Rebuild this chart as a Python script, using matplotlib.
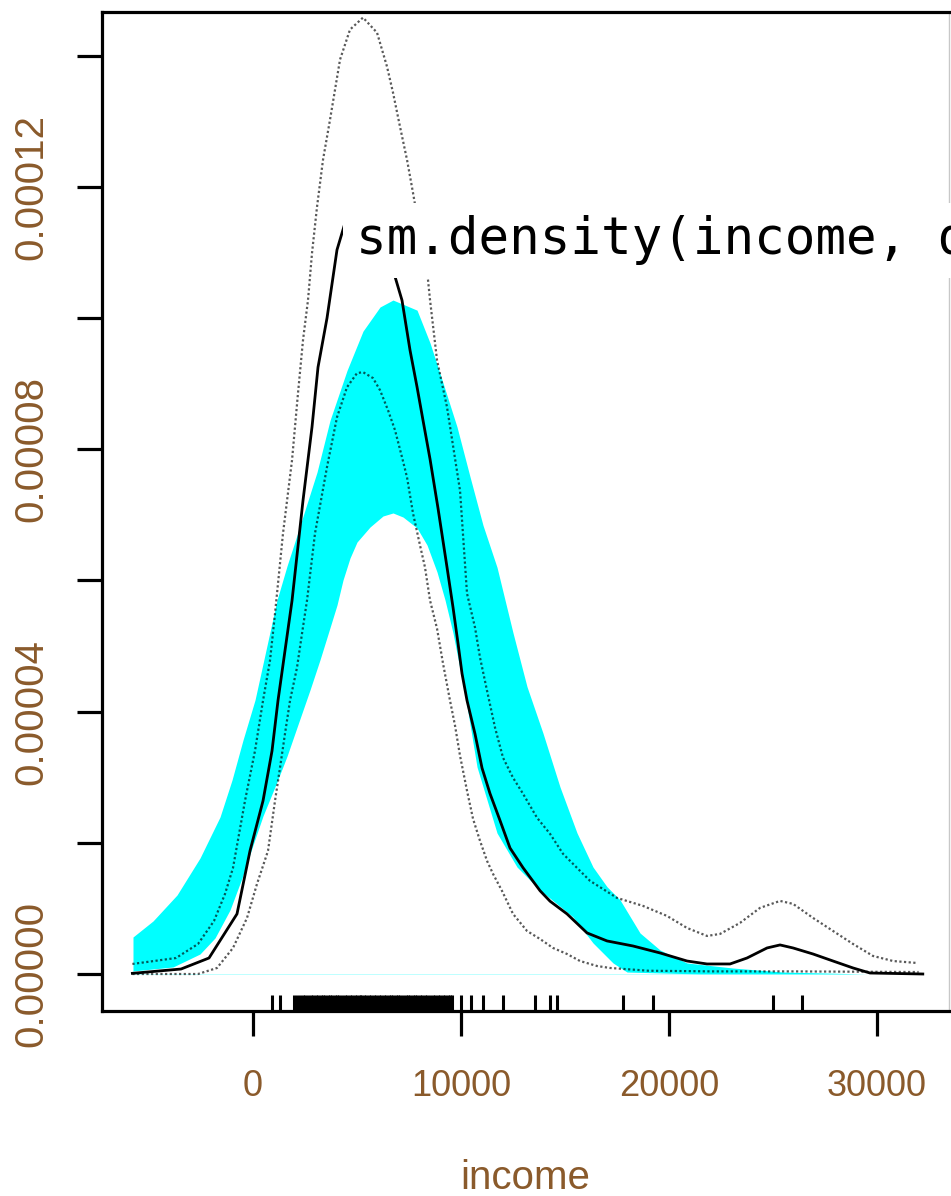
import matplotlib
matplotlib.use("Agg")
import matplotlib.pyplot as plt

# ---- data (income, density in units of 1e-5) ----
# density estimate (solid)
est_x = [-5800, -3460, -2115, -770, -144, 481, 913, 1202, 1538, 1875, 2404, 2837,
         3125, 3558, 4038, 4471, 4760, 5144, 5529, 5913, 6346, 6827, 7163, 7548,
         7885, 8173, 8510, 8894, 9327, 9615, 9856, 10048, 10288, 10673, 11010,
         11394, 11875, 12356, 12981, 13798, 14279, 15096, 16058, 17019, 18269,
         19567, 20865, 21827, 22933, 23750, 24712, 25337, 25962, 26923, 27885,
         28846, 29663, 32200]
est_y = [0.01, 0.076, 0.244, 0.916, 1.878, 2.64, 3.40, 4.17, 4.93, 5.69, 7.22, 8.34,
         9.25, 10.0, 11.04, 11.5, 11.66, 11.7, 11.66, 11.5, 11.15, 10.63, 10.27, 9.51,
         8.95, 8.44, 7.85, 7.1, 6.2, 5.59, 5.04, 4.58, 4.17, 3.66, 3.14,
         2.75, 2.34, 1.92, 1.62, 1.27, 1.11, 0.916, 0.626, 0.504, 0.427,
         0.321, 0.198, 0.153, 0.153, 0.244, 0.397, 0.443, 0.397, 0.305, 0.198,
         0.092, 0.015, 0.0]

# upper variability band (dotted)
upper_x = [-5800, -3702, -2644, -1875, -1346, -962, -385, 96, 481, 817, 1058, 1442,
           1875, 2163, 2404, 2644, 2837, 3077, 3365, 3702, 4183, 4663, 5288, 5962,
           6442, 6731, 7067, 7404, 7692, 8413, 8510, 8846, 9327, 9952, 10288,
           10673, 10913, 11250, 11635, 12019, 12500, 12981, 13654, 14279, 14904,
           15577, 16202, 17500, 18750, 19904, 20865, 21827, 22452, 23413, 24375,
           25337, 25962, 26923, 27885, 28846, 29808, 30769, 31923]
upper_y = [0.153, 0.244, 0.458, 0.809, 1.221, 1.618, 2.641, 3.404, 4.168, 4.779, 5.496, 6.717,
           7.832, 8.855, 9.664, 10.275, 10.992, 11.694, 12.412, 13.023, 13.939, 14.397, 14.58, 14.35,
           13.832, 13.435, 12.916, 12.412, 11.908, 10.58, 10.275, 9.359, 8.641, 7.37, 5.80,
           5.282, 4.824, 4.32, 3.756, 3.298, 2.992, 2.748, 2.382, 2.137, 1.832,
           1.618, 1.42, 1.16, 1.038, 0.885, 0.702, 0.58, 0.611, 0.779, 1.008,
           1.114, 1.069, 0.855, 0.656, 0.458, 0.275, 0.198, 0.168]

# lower variability band (dotted)
lower_x = [-5800, -2644, -1731, -962, -288, 192, 721, 1058, 1298, 1538, 1779, 2115,
           2356, 2596, 2980, 3558, 4038, 4519, 5000, 5288, 5769, 6106, 6490, 6827,
           7163, 7404, 7692, 8029, 8269, 8510, 8846, 9135, 9471, 9712, 9952, 10288,
           10577, 10913, 11250, 11538, 11971, 12500, 13173, 13798, 14423, 15096,
           15721, 16538, 17163, 19000, 22000, 26000, 32000]
lower_y = [0.0, 0.0, 0.092, 0.397, 0.855, 1.374, 1.878, 2.641, 3.145, 3.664, 4.168, 4.672,
           5.191, 5.695, 6.717, 7.73, 8.488, 8.946, 9.16, 9.175, 9.084, 8.9, 8.595, 8.29,
           7.878, 7.572, 7.023, 6.534, 6.198, 5.695, 5.267, 4.733, 4.168, 3.786, 3.328, 2.794,
           2.366, 2.03, 1.725, 1.527, 1.267, 0.916, 0.656, 0.534, 0.397, 0.305,
           0.198, 0.122, 0.092, 0.05, 0.04, 0.04, 0.03]

# reference band under normality (cyan)
ref_up_x = [-5770, -4808, -3654, -2548, -1587, -1010, -481, 96, 625, 1154, 1635, 2115,
            3077, 3702, 4519, 5288, 6106, 6731, 7885, 8510, 9135, 9808, 10433, 11058,
            11731, 12500, 13173, 13942, 14760, 15577, 16346, 17019, 17644, 18606,
            19567, 20865, 23077, 25481, 29519, 32404]
ref_up_y = [0.564, 0.808, 1.204, 1.768, 2.393, 2.957, 3.567, 4.177, 4.939, 5.701, 6.22, 6.69,
            7.65, 8.44, 9.2, 9.8, 10.168, 10.274, 10.12, 9.62, 9.01, 8.34, 7.58, 6.84,
            6.2, 5.2, 4.38, 3.67, 2.85, 2.15, 1.63, 1.33, 1.13, 0.625,
            0.366, 0.168, 0.091, 0.03, 0.0, 0.0]
ref_lo_x = [-5770, -3846, -2548, -1827, -1106, -529, 0, 481, 1154, 1635, 2115, 2740,
            3221, 3702, 4038, 4327, 4663, 5000, 5625, 6250, 6731, 7212, 7885, 8365,
            8846, 9231, 9615, 10240, 10769, 11731, 12692, 13798, 15385, 16346, 17308,
            17981, 21490, 32404]
ref_lo_y = [0.046, 0.107, 0.305, 0.549, 0.976, 1.463, 1.966, 2.41, 2.93, 3.32, 3.76, 4.33,
            4.79, 5.28, 5.625, 6.006, 6.341, 6.585, 6.814, 6.982, 7.028, 6.966, 6.799, 6.54,
            6.128, 5.701, 5.198, 4.177, 3.156, 2.149, 1.631, 1.28, 0.869, 0.473, 0.168,
            0.03, 0.0, 0.0]

# rug of observed incomes
rug = [913, 1298, 1971, 2130, 2250, 2390, 2500, 2640, 2770, 2870, 3010, 3120, 3260,
       3350, 3480, 3590, 3720, 3800, 3940, 4060, 4150, 4290, 4410, 4500, 4650, 4740,
       4880, 4990, 5120, 5210, 5350, 5440, 5590, 5680, 5820, 5930, 6050, 6150, 6290,
       6380, 6520, 6640, 6730, 6870, 6990, 7080, 7220, 7340, 7440, 7570, 7670, 7810,
       7900, 8040, 8140, 8270, 8370, 8510, 8630, 8730, 8870, 8970, 9110, 9250, 9360,
       9470, 9567, 10000, 10480, 11058, 12019, 13558, 14279, 14615, 17788, 19230,
       25000, 26394]

yticks = [0, 2e-5, 4e-5, 6e-5, 8e-5, 1e-4, 1.2e-4, 1.4e-4]
ytick_labels = ["0.00000", "", "0.00004", "", "0.00008", "", "0.00012", ""]
xticks = [0, 10000, 20000, 30000]
xtick_labels = ["0", "10000", "20000", "30000"]

label_col = "#8a5a2b"
scale = 1e-5

fig = plt.figure(figsize=(9.51, 11.96), dpi=100)
ax = fig.add_axes([102 / 951, 185 / 1196, 847 / 951, 999 / 1196])

ax.fill_between(ref_up_x, [v * scale for v in ref_up_y], color="#00ffff", lw=0, zorder=1)
# cut out the area under the lower edge of the band
ax.fill_between(ref_lo_x, [v * scale for v in ref_lo_y], color="white", lw=0, zorder=1.1)

ax.plot(est_x, [v * scale for v in est_y], color="black", lw=2.0, zorder=3)
ax.plot(upper_x, [v * scale for v in upper_y], color="black", alpha=0.65, lw=1.6,
        linestyle=(0, (1, 1.1)), zorder=3)
ax.plot(lower_x, [v * scale for v in lower_y], color="black", alpha=0.65, lw=1.6,
        linestyle=(0, (1, 1.1)), zorder=3)

ax.vlines(rug, 0, 0.016, transform=ax.get_xaxis_transform(), color="black", lw=2.2)

ax.set_xlim(-7260, 33460)
ax.set_ylim(-5.64e-6, 1.4665e-4)

for side in ["left", "bottom", "top"]:
    ax.spines[side].set_linewidth(2.3)
ax.spines["right"].set_color("#c8c8c8")
ax.spines["right"].set_linewidth(1.0)

ax.set_xticks(xticks)
ax.set_xticklabels(xtick_labels, fontsize=26, family="Liberation Sans", color=label_col)
ax.set_yticks(yticks)
ax.set_yticklabels(ytick_labels, fontsize=29, family="Liberation Sans", color=label_col,
                   rotation=90, va="center")
ax.tick_params(axis="both", length=18, width=2.3)
ax.tick_params(axis="x", pad=24)
ax.tick_params(axis="y", pad=19)

ax.text(4952, 1.097e-4, "sm.density(income, d", family="DejaVu Sans Mono",
        fontsize=36.6, va="baseline", ha="left", zorder=5, clip_on=False,
        bbox=dict(boxstyle="square,pad=0.25", fc="white", ec="none"))

fig.text(525 / 951, 7 / 1196, "income", ha="center", va="baseline", fontsize=29,
         family="Liberation Sans", color=label_col)

fig.savefig("out.png", dpi=100)
